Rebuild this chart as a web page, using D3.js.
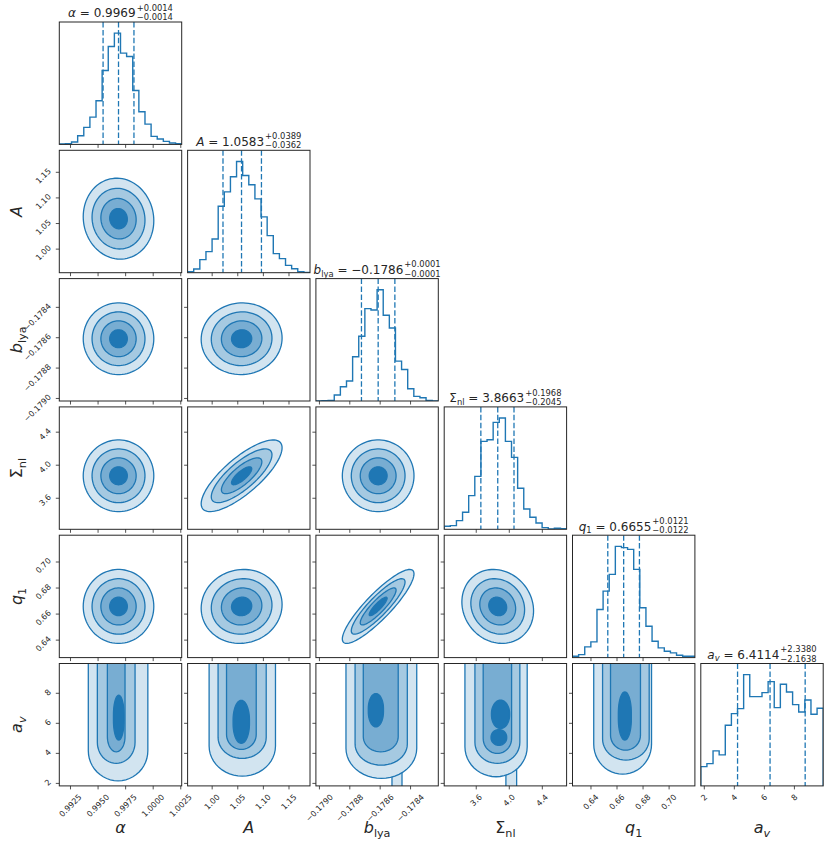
<!DOCTYPE html>
<html lang="en">

<head>
    <meta charset="UTF-8" />
    <script src="https://d3js.org/d3.v7.min.js"></script>
    <title>corner plot</title>
    <style>
        body { margin: 0; background: #fff; }
        text { font-family: "DejaVu Sans", sans-serif; fill: #262626; }
    </style>
</head>

<body>
    <script>
        const width = 830,
            height = 846

        // axis ranges of the six parameters (alpha, A, b_lya, Sigma_nl, q1, a_v)
        const ranges = [[0.99153, 1.00263], [0.953, 1.192], [-0.17902, -0.178214], [3.218, 4.700], [0.6262, 0.7202], [1.80, 9.95]]
        const ticks = [[0.9925, 0.9950, 0.9975, 1.0000, 1.0025], [1.00, 1.05, 1.10, 1.15], [-0.1790, -0.1788, -0.1786, -0.1784], [3.6, 4.0, 4.4], [0.64, 0.66, 0.68, 0.70], [2, 4, 6, 8]]
        const tickLabels = [
            ['0.9925', '0.9950', '0.9975', '1.0000', '1.0025'],
            ['1.00', '1.05', '1.10', '1.15'],
            ['−0.1790', '−0.1788', '−0.1786', '−0.1784'],
            ['3.6', '4.0', '4.4'],
            ['0.64', '0.66', '0.68', '0.70'],
            ['2', '4', '6', '8']
        ]

        // 1D histograms, 20 bins over each range
        const countsAlpha = [1, 2, 7, 26, 51, 82, 131, 222, 294, 334, 274, 264, 162, 98, 61, 24, 16, 9, 4, 2]
        const countsA = [3, 11, 39, 63, 101, 199, 242, 287, 333, 291, 263, 221, 167, 111, 57, 42, 22, 12, 3, 1]
        const countsB = [0, 1, 2, 18, 43, 60, 133, 195, 278, 274, 335, 258, 220, 120, 95, 37, 14, 10, 2, 0]
        const countsSigma = [9, 11, 26, 51, 101, 159, 264, 269, 321, 334, 264, 216, 123, 61, 36, 19, 5, 1, 3, 2]
        const countsQ1 = [4, 9, 32, 47, 144, 199, 249, 333, 329, 324, 264, 149, 94, 49, 29, 19, 14, 7, 4, 4]
        const countsAv = [58, 67, 105, 93, 182, 217, 232, 334, 268, 268, 280, 313, 235, 305, 282, 244, 222, 258, 215, 233]
        const counts = [countsAlpha, countsA, countsB, countsSigma, countsQ1, countsAv]

        // 16 / 50 / 84 % quantiles
        const q16 = [0.9955, 1.0221, -0.17872, 3.6618, 0.6533, 4.2476]
        const q50 = [0.9969, 1.0583, -0.17861, 3.8663, 0.6655, 6.4114]
        const q84 = [0.9983, 1.0972, -0.17850, 4.0631, 0.6776, 8.7494]

        const titleMain = ['0.9969', '1.0583', '−0.1786', '3.8663', '0.6655', '6.4114']
        const titlePlus = ['+0.0014', '+0.0389', '+0.0001', '+0.1968', '+0.0121', '+2.3380']
        const titleMinus = ['−0.0014', '−0.0362', '−0.0001', '−0.2045', '−0.0122', '−2.1638']

        // 2D contours (roughly gaussian for the first five parameters)
        const centers = [0.9969, 1.0585, -0.17861, 3.866, 0.6655]
        const spreads = [0.0016, 0.0395, 0.000118, 0.217, 0.0142]
        // [row, col, correlation]
        const correlations = [[1, 0, -0.05], [2, 0, 0.0], [2, 1, 0.02], [3, 0, 0.0], [3, 1, 0.78], [3, 2, 0.0],
            [4, 0, 0.0], [4, 1, 0.05], [4, 2, 0.88], [4, 3, -0.12]]
        const sigmaLevels = [2, 1.5, 1, 0.5]
        const fills = ['#d2e4f0', '#a5c9e1', '#78add2', '#1f77b4']

        // a_v row: [level, centre x, half width x, bottom a_v, top a_v, cap]
        const avAlpha = [[0, 0.99686, 0.00270, 2.14, 12, 2.0], [1, 0.99669, 0.00171, 3.30, 12, 1.4],
            [2, 0.99669, 0.00080, 4.07, 12, 1.0], [3, 0.99692, 0.00048, 4.85, 7.84, 1.3]]
        const avA = [[0, 1.0598, 0.0648, 2.45, 12, 2.0], [1, 1.0595, 0.0470, 3.63, 12, 1.4],
            [2, 1.0580, 0.0290, 4.23, 12, 1.0], [3, 1.0578, 0.0160, 4.63, 7.50, 1.3]]
        const avB = [[0, -0.178486, 0.000033, 0.0, 3.5, 0.3], [0, -0.178589, 0.000233, 2.30, 12, 2.0],
            [1, -0.178590, 0.000172, 3.18, 12, 1.4], [2, -0.178593, 0.000115, 4.07, 12, 1.0],
            [3, -0.178625, 0.000050, 5.73, 7.95, 1.0]]
        const avSigma = [[0, 4.03, 0.065, 0.0, 3.3, 0.3], [0, 3.846, 0.377, 2.41, 12, 2.0],
            [1, 3.862, 0.272, 3.30, 12, 1.4], [2, 3.862, 0.172, 3.96, 12, 1.0],
            [3, 3.90, 0.110, 5.62, 7.51, 0.9], [3, 3.88, 0.095, 4.50, 5.55, 0.5]]
        const avQ1 = [[0, 0.6647, 0.0222, 2.58, 12, 2.0], [1, 0.6672, 0.0179, 3.52, 12, 1.4],
            [2, 0.6669, 0.0115, 4.18, 12, 1.0], [3, 0.6664, 0.0050, 4.85, 8.06, 1.4]]
        const avShapes = [avAlpha, avA, avB, avSigma, avQ1]

        // label pieces: [text, style] style: i italic, r roman, s* subscript
        const labelParts = [
            [['α', 'i']],
            [['A', 'i']],
            [['b', 'i'], ['lya', 'sr']],
            [['Σ', 'r'], ['nl', 'sr']],
            [['q', 'i'], ['1', 'sr']],
            [['a', 'i'], ['v', 'si']]
        ]

        const n = 6
        const size = 122.4, step = 128.3, left0 = 59.3, top0 = 22
        const color = '#1f77b4'

        const svg = d3.select('body').append('svg').attr('width', width).attr('height', height)
        svg.append('rect').attr('width', width).attr('height', height).attr('fill', '#fff')

        const xs = ranges.map(r => d3.scaleLinear().domain(r).range([0, size]))
        const ys = ranges.map(r => d3.scaleLinear().domain(r).range([size, 0]))

        function addMath(t, parts, fs) {
            let shift = 0
            parts.forEach(([str, st]) => {
                const isSub = st[0] === 's'
                const newShift = isSub ? fs * 0.22 : 0
                t.append('tspan')
                    .attr('dy', newShift - shift)
                    .attr('font-size', isSub ? fs * 0.7 : fs)
                    .attr('font-style', st.endsWith('i') ? 'italic' : 'normal')
                    .text(str)
                shift = newShift
            })
            return shift
        }

        function drawHist(plot, k) {
            const c = counts[k]
            const y = d3.scaleLinear().domain([0, 1.1 * d3.max(c)]).range([size, 0])
            const edge = m => ranges[k][0] + m * (ranges[k][1] - ranges[k][0]) / c.length
            const pts = [[edge(0), 0]]
            c.forEach((v, m) => { pts.push([edge(m), v]); pts.push([edge(m + 1), v]) })
            pts.push([edge(c.length), 0])
            plot.append('path')
                .attr('d', d3.line().x(d => xs[k](d[0])).y(d => y(d[1]))(pts))
                .attr('fill', 'none').attr('stroke', color).attr('stroke-width', 1.4)
            ;[q16[k], q50[k], q84[k]].forEach(q => {
                plot.append('line')
                    .attr('x1', xs[k](q)).attr('x2', xs[k](q))
                    .attr('y1', 0).attr('y2', size)
                    .attr('stroke', color).attr('stroke-width', 1.3)
                    .attr('stroke-dasharray', '5.5,2.4')
            })
        }

        function drawGauss(plot, i, j) {
            const rho = correlations.find(c => c[0] === i && c[1] === j)[2]
            const line = d3.line().x(d => xs[j](d[0])).y(d => ys[i](d[1]))
            sigmaLevels.forEach((s, L) => {
                const pts = d3.range(0, 360, 4).map(deg => {
                    const t = deg * Math.PI / 180
                    return [centers[j] + s * spreads[j] * Math.cos(t),
                        centers[i] + s * spreads[i] * (rho * Math.cos(t) + Math.sqrt(1 - rho * rho) * Math.sin(t))]
                })
                plot.append('path').attr('d', line(pts) + 'Z')
                    .attr('fill', fills[L]).attr('stroke', color).attr('stroke-width', 1.3)
            })
        }

        function stadium(cx, hw, y0, y1, cap) {
            const pts = []
            const k = 24
            const open = y1 > ranges[5][1]
            pts.push([cx + hw, open ? y1 : y1 - cap])
            for (let m = 0; m <= k; m++) {
                const t = Math.PI * m / k
                pts.push([cx + hw * Math.cos(t), y0 + cap - cap * Math.sin(t)])
            }
            if (open) pts.push([cx - hw, y1])
            else for (let m = 0; m <= k; m++) {
                const t = Math.PI * m / k
                pts.push([cx - hw * Math.cos(t), y1 - cap + cap * Math.sin(t)])
            }
            return pts
        }

        function drawAv(plot, j) {
            const line = d3.line().x(d => xs[j](d[0])).y(d => ys[5](d[1]))
            avShapes[j].forEach(([L, cx, hw, y0, y1, cap]) => {
                plot.append('path').attr('d', line(stadium(cx, hw, y0, y1, cap)) + 'Z')
                    .attr('fill', fills[L]).attr('stroke', color).attr('stroke-width', 1.3)
            })
        }

        for (let i = 0; i < n; i++) {
            for (let j = 0; j <= i; j++) {
                const g = svg.append('g').attr('transform', `translate(${left0 + j * step},${top0 + i * step})`)
                const clipId = `clip-${i}-${j}`
                g.append('clipPath').attr('id', clipId).append('rect').attr('width', size).attr('height', size)
                const plot = g.append('g').attr('clip-path', `url(#${clipId})`)
                if (i === j) drawHist(plot, j)
                else if (i === n - 1) drawAv(plot, j)
                else drawGauss(plot, i, j)

                g.append('rect').attr('width', size).attr('height', size)
                    .attr('fill', 'none').attr('stroke', '#262626').attr('stroke-width', 1)

                // x ticks
                const ax = g.append('g').attr('transform', `translate(0,${size})`)
                    .call(d3.axisBottom(xs[j]).tickValues(ticks[j]).tickSize(3.5)
                        .tickFormat((d, k) => i === n - 1 ? tickLabels[j][k] : ''))
                ax.select('.domain').remove()
                ax.attr('font-size', 8).attr('font-family', 'DejaVu Sans').attr('color', '#262626')
                ax.selectAll('.tick line').attr('stroke-width', 0.8)
                if (i === n - 1) {
                    ax.selectAll('.tick text').each(function () {
                        const w = this.getComputedTextLength()
                        const ex = 0.354 * w, ey = 10
                        d3.select(this).attr('text-anchor', 'end').attr('dy', null)
                            .attr('dominant-baseline', 'central')
                            .attr('x', ex).attr('y', ey)
                            .attr('transform', `rotate(-45,${ex},${ey})`)
                    })
                }

                // y ticks on 2D panels
                if (i !== j) {
                    const ay = g.append('g')
                        .call(d3.axisLeft(ys[i]).tickValues(ticks[i]).tickSize(3.5)
                            .tickFormat((d, k) => j === 0 ? tickLabels[i][k] : ''))
                    ay.select('.domain').remove()
                    ay.attr('font-size', 8).attr('font-family', 'DejaVu Sans').attr('color', '#262626')
                    ay.selectAll('.tick line').attr('stroke-width', 0.8)
                    if (j === 0) {
                        ay.selectAll('.tick text').each(function () {
                            const ex = -9.5, ey = -2.5
                            d3.select(this).attr('text-anchor', 'end').attr('dy', null)
                                .attr('dominant-baseline', 'central')
                                .attr('x', ex).attr('y', ey)
                                .attr('transform', `rotate(-45,${ex},${ey})`)
                        })
                    }
                }
            }
        }

        // titles over the histograms
        for (let k = 0; k < n; k++) {
            const cx = left0 + k * step + size / 2
            const base = top0 + k * step - 4.7
            const t = svg.append('text').attr('y', base).attr('font-size', 12)
            const shift = addMath(t, labelParts[k], 12)
            t.append('tspan').attr('dy', -shift).attr('font-size', 12).text(' = ' + titleMain[k])
            const sup = svg.append('text').attr('y', base - 6.6).attr('font-size', 8.4).text(titlePlus[k])
            const sub = svg.append('text').attr('y', base + 2.8).attr('font-size', 8.4).text(titleMinus[k])
            const w0 = t.node().getComputedTextLength()
            const w1 = Math.max(sup.node().getComputedTextLength(), sub.node().getComputedTextLength())
            const x = cx - (w0 + 1 + w1) / 2
            t.attr('x', x)
            sup.attr('x', x + w0 + 1)
            sub.attr('x', x + w0 + 1)
        }

        // axis labels
        for (let k = 0; k < n; k++) {
            const t = svg.append('text')
                .attr('x', left0 + k * step + size / 2).attr('y', 833)
                .attr('text-anchor', 'middle').attr('font-size', 16)
            addMath(t, labelParts[k], 16)
            if (k > 0) {
                const cy = top0 + k * step + size / 2
                const tl = svg.append('text')
                    .attr('x', 22).attr('y', cy)
                    .attr('text-anchor', 'middle').attr('font-size', 16)
                    .attr('transform', `rotate(-90,22,${cy})`)
                addMath(tl, labelParts[k], 16)
            }
        }
    </script>
</body>

</html>
